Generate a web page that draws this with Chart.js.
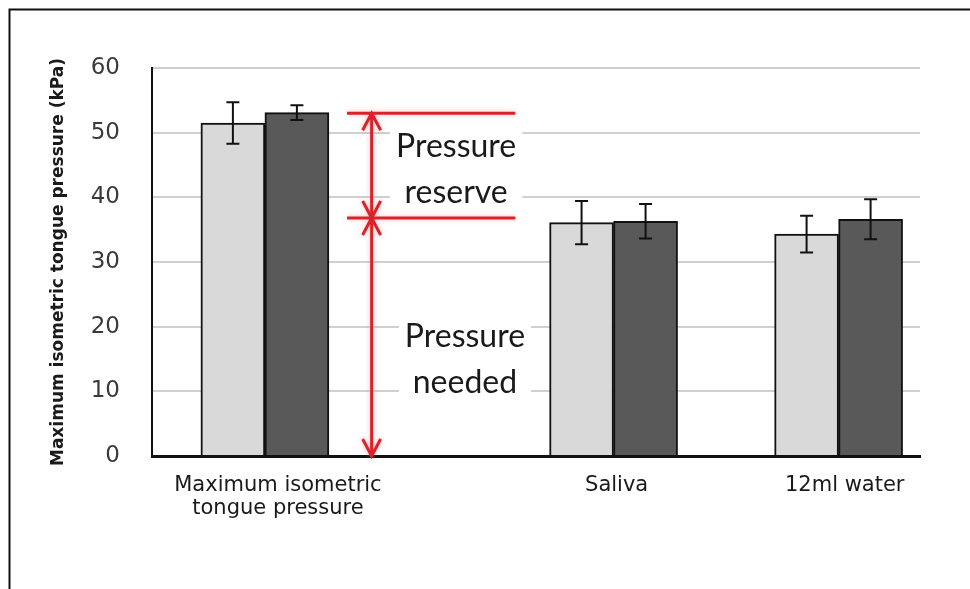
<!DOCTYPE html>
<html>
<head>
<meta charset="utf-8">
<script src="https://cdn.jsdelivr.net/npm/chart.js@4.4.0/dist/chart.umd.min.js"></script>
<style>
    html, body { margin: 0; padding: 0; background: #fff; overflow: hidden; }
    #contenedor { position: relative; width: 970px; height: 589px; }
</style>
</head>
<body>
<div id="contenedor"><canvas id="grafico"></canvas></div>
<script>
// datos
const categorias = [['Maximum isometric', 'tongue pressure'], 'Saliva', '12ml water'];
const serieClara = [51.5, 36.1, 34.3];
const errorClara = [3.2, 3.35, 2.85];
const serieOscura = [53.1, 36.3, 36.6];
const errorOscura = [1.15, 2.65, 3.1];
const ticksY = [0, 10, 20, 30, 40, 50, 60];
const nivelMaximo = 53.0;
const nivelNecesario = 36.8;
const textoReserva = ['Pressure', 'reserve'];
const textoNecesario = ['Pressure', 'needed'];

// posiciones de los grupos sobre el eje x (0-100)
const posGrupos = [14.7, 60.1, 89.4];
const posEtiquetas = [16.4, 60.5, 90.2];

const marco = {
    id: 'marco',
    beforeDraw(chart) {
        const ctx = chart.ctx;
        ctx.save();
        ctx.fillStyle = '#fff';
        ctx.fillRect(0, 0, chart.width, chart.height);
        ctx.strokeStyle = '#111';
        ctx.lineWidth = 2;
        ctx.beginPath();
        ctx.moveTo(9.5, chart.height);
        ctx.lineTo(9.5, 9.5);
        ctx.lineTo(chart.width, 9.5);
        ctx.stroke();
        ctx.restore();
    }
};

const barrasError = {
    id: 'barrasError',
    afterDatasetsDraw(chart) {
        const ctx = chart.ctx;
        const y = chart.scales.y;
        [errorClara, errorOscura].forEach((errs, d) => {
            const meta = chart.getDatasetMeta(d);
            meta.data.forEach((barra, i) => {
                const v = chart.data.datasets[d].data[i].y;
                const arriba = y.getPixelForValue(v + errs[i]);
                const abajo = y.getPixelForValue(v - errs[i]);
                ctx.save();
                ctx.strokeStyle = '#111';
                ctx.lineWidth = 2;
                ctx.beginPath();
                ctx.moveTo(barra.x, arriba); ctx.lineTo(barra.x, abajo);
                ctx.moveTo(barra.x - 6.5, arriba); ctx.lineTo(barra.x + 6.5, arriba);
                ctx.moveTo(barra.x - 6.5, abajo); ctx.lineTo(barra.x + 6.5, abajo);
                ctx.stroke();
                ctx.restore();
            });
        });
    }
};

function bloqueTexto(ctx, lineas, cx, yBase) {
    const paso = 46;
    ctx.font = '32px Lato';
    const ancho = Math.max(...lineas.map(l => ctx.measureText(l).width));
    ctx.fillStyle = '#fff';
    ctx.fillRect(cx - ancho / 2 - 6, yBase - 28, ancho + 12, paso * (lineas.length - 1) + 38);
    ctx.fillStyle = '#1a1a1a';
    ctx.textAlign = 'center';
    ctx.textBaseline = 'alphabetic';
    lineas.forEach((l, i) => ctx.fillText(l, cx, yBase + i * paso));
}

const anotaciones = {
    id: 'anotaciones',
    afterDatasetsDraw(chart) {
        const ctx = chart.ctx;
        const x = chart.scales.x, y = chart.scales.y;
        ctx.save();
        bloqueTexto(ctx, textoReserva, x.getPixelForValue(39.6), y.getPixelForValue(46.2));
        bloqueTexto(ctx, textoNecesario, x.getPixelForValue(40.75), y.getPixelForValue(16.85));

        const x0 = x.getPixelForValue(25.4), x1 = x.getPixelForValue(47.3), xf = x.getPixelForValue(28.6);
        const yMax = y.getPixelForValue(nivelMaximo);
        const yNec = y.getPixelForValue(nivelNecesario);
        const yCero = y.getPixelForValue(0);
        ctx.strokeStyle = '#d8232c';
        ctx.lineWidth = 3;
        ctx.shadowColor = 'rgba(240,120,120,0.5)';
        ctx.shadowBlur = 5;
        ctx.beginPath();
        [yMax, yNec].forEach(yy => { ctx.moveTo(x0, yy); ctx.lineTo(x1, yy); });
        ctx.moveTo(xf, yMax); ctx.lineTo(xf, yCero);
        const punta = (yy, dir) => {
            ctx.moveTo(xf - 9, yy + dir * 17);
            ctx.lineTo(xf, yy);
            ctx.lineTo(xf + 9, yy + dir * 17);
        };
        punta(yMax, 1); punta(yNec, -1); punta(yNec, 1); punta(yCero, -1);
        ctx.stroke();
        ctx.restore();
    }
};

new Chart(document.getElementById('grafico').getContext('2d'), {
    type: 'bar',
    data: {
        datasets: [
            {
                label: 'A',
                data: serieClara.map((v, i) => ({x: posGrupos[i], y: v})),
                backgroundColor: '#d9d9d9',
                borderColor: '#111',
                borderWidth: 2,
                barThickness: 64
            },
            {
                label: 'B',
                data: serieOscura.map((v, i) => ({x: posGrupos[i], y: v})),
                backgroundColor: '#595959',
                borderColor: '#111',
                borderWidth: 2,
                barThickness: 64
            }
        ]
    },
    options: {
        responsive: true,
        maintainAspectRatio: false,
        animation: false,
        layout: {padding: {left: 44, top: 68, right: 50, bottom: 0}},
        plugins: {legend: {display: false}, tooltip: {enabled: false}},
        scales: {
            x: {
                type: 'linear', min: 0, max: 100, offset: false,
                afterBuildTicks: s => { s.ticks = posEtiquetas.map(v => ({value: v})); },
                ticks: {
                    callback: (v, i) => categorias[i],
                    font: {family: 'DejaVu Sans', size: 21, lineHeight: 1.1},
                    color: '#1a1a1a', padding: 18, maxRotation: 0, autoSkip: false
                },
                grid: {display: false, drawTicks: false, offset: false},
                border: {display: true, color: '#111', width: 3},
                afterFit: s => { s.height = 133; }
            },
            y: {
                min: 0, max: 60,
                afterBuildTicks: s => { s.ticks = ticksY.map(v => ({value: v})); },
                ticks: {font: {family: 'DejaVu Sans', size: 23}, color: '#3a3a3a', padding: 32},
                grid: {color: '#d0d0d0', lineWidth: 2, drawTicks: false},
                border: {display: true, color: '#111', width: 2},
                title: {
                    display: true,
                    text: 'Maximum isometric tongue pressure (kPa)',
                    font: {family: 'DejaVu Sans', size: 17, weight: 'bold'},
                    color: '#1a1a1a',
                    padding: {top: 4, bottom: 4}
                },
                afterFit: s => { s.width = 108; }
            }
        }
    },
    plugins: [marco, barrasError, anotaciones]
});
</script>
</body>
</html>
